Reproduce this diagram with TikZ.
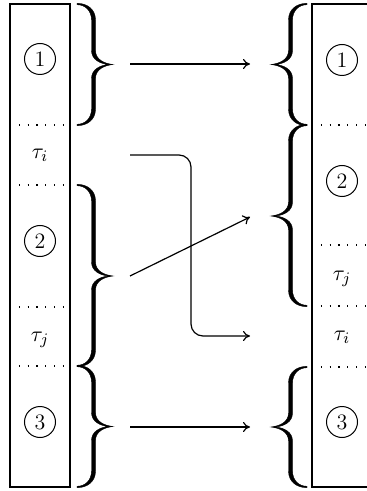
\documentclass[tikz,border=0pt]{standalone}
\usetikzlibrary{arrows.meta}
\tikzset{
  box/.style={line width=0.9pt},
  sep/.style={line width=0.55pt, dash pattern=on 0.55pt off 3.85pt},
  num/.style={draw, circle, line width=0.5pt, minimum size=15.5pt, inner sep=0pt, font=\fontsize{11}{13}\selectfont},
  lab/.style={font=\fontsize{11}{13}\selectfont, inner sep=0pt},
  conn/.style={line width=0.6pt, -{To[length=3.5pt,width=5pt]}},
  brc/.style={fill=black, draw=black, line width=0.2pt}
}
\newcommand\BraceAt[5]{% x, ytop, ybot, dir, ymid
  \begin{scope}[shift={(#1,0)}, xscale=#4]
    \path[brc] (0,#2-0.7) .. controls (10,#2-0.7) and (18.5,#2+5) .. (18.5,#2+16)
      -- (18.5,#5-14) .. controls (18.5,#5-5) and (27,#5-1) .. (36,#5)
      .. controls (27,#5+1) and (18.5,#5+5) .. (18.5,#5+14)
      -- (18.5,#3-16) .. controls (18.5,#3-5) and (10,#3+0.7) .. (0,#3+0.7)
      -- (0,#3-0.7) .. controls (8.5,#3-0.7) and (14.5,#3-7) .. (14.5,#3-16)
      -- (14.5,#5+14) .. controls (14.5,#5+5) and (23,#5+0.6) .. (32,#5)
      .. controls (23,#5-0.6) and (14.5,#5-5) .. (14.5,#5-14)
      -- (14.5,#2+16) .. controls (14.5,#2+7) and (8.5,#2+0.7) .. (0,#2+0.7) -- cycle;
  \end{scope}}
\begin{document}
\begin{tikzpicture}[x=0.5pt, y=-0.5pt]
  \useasboundingbox (0,0) rectangle (367,491);
  \clip (0,0) rectangle (367,491);
  % columns
  \draw[box] (10,4) rectangle (70,487);
  \draw[box] (312,4) rectangle (372,487);
  % separators
  \foreach \yy in {125,185,307,366} \draw[sep] (10,\yy) -- (70,\yy);
  \foreach \yy in {125,245,306,367} \draw[sep] (312,\yy) -- (372,\yy);
  % left labels
  \node[num] (L1) at (40,59) {1};
  \node[lab] (Lti) at (40,155) {$\tau_i$};
  \node[num] (L2) at (40,241) {2};
  \node[lab] (Ltj) at (40,340) {$\tau_j$};
  \node[num] (L3) at (40,422) {3};
  % right labels
  \node[num] (R1) at (342,60) {1};
  \node[num] (R2) at (342,181) {2};
  \node[lab] (Rtj) at (342,279) {$\tau_j$};
  \node[lab] (Rti) at (342,337) {$\tau_i$};
  \node[num] (R3) at (342,422) {3};
  % braces
  \BraceAt{77}{4}{125}{1}{64.5}
  \BraceAt{77}{185}{366}{1}{276}
  \BraceAt{77}{366}{487}{1}{426.5}
  \BraceAt{307}{4}{125}{-1}{64.5}
  \BraceAt{307}{125}{306}{-1}{216}
  \BraceAt{307}{367}{487}{-1}{427}
  % connectors
  \coordinate (a1s) at (130,64);
  \coordinate (a1e) at (250,64);
  \coordinate (a2s) at (130,276);
  \coordinate (a2e) at (250,217);
  \coordinate (a3s) at (130,155);
  \coordinate (a3m) at (191,245);
  \coordinate (a3e) at (250,336);
  \coordinate (a4s) at (130,427);
  \coordinate (a4e) at (250,427);
  \draw[conn] (a1s) -- (a1e);
  \draw[conn] (a2s) -- (a2e);
  \draw[conn, rounded corners=6pt] (a3s) -| (a3m) |- (a3e);
  \draw[conn] (a4s) -- (a4e);
\end{tikzpicture}
\end{document}
